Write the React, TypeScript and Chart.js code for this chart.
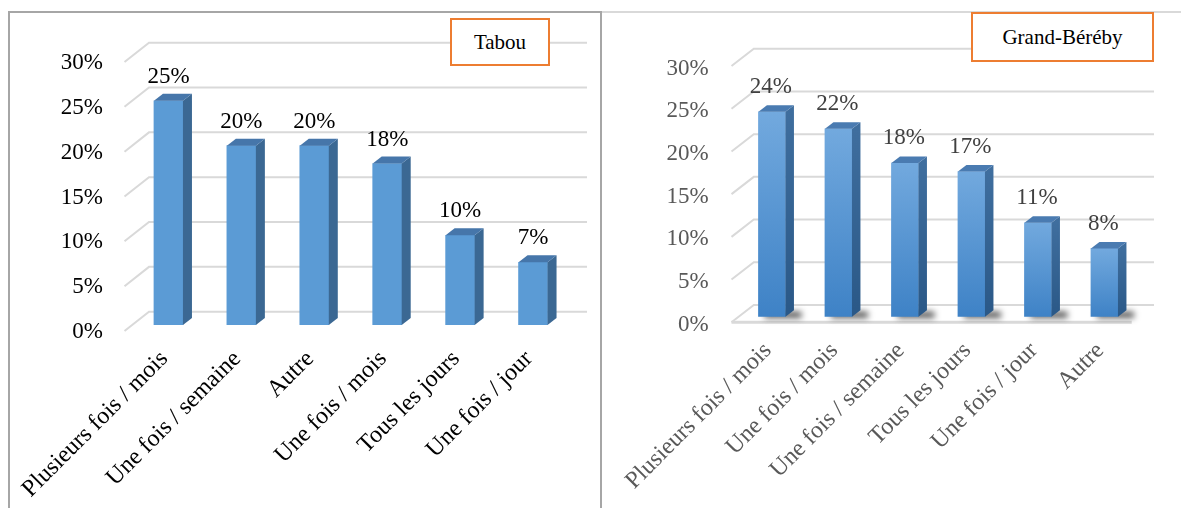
import React, { useEffect, useRef } from 'react';
import { Chart, registerables } from 'chart.js';

Chart.register(...registerables);

// ---------- data ----------
const tabouCategories = [
  'Plusieurs fois / mois',
  'Une fois / semaine',
  'Autre',
  'Une fois / mois',
  'Tous les jours',
  'Une fois / jour',
];
const tabouValues = [25, 20, 20, 18, 10, 7];

const berebyCategories = [
  'Plusieurs fois / mois',
  'Une fois / mois',
  'Une fois / semaine',
  'Tous les jours',
  'Une fois / jour',
  'Autre',
];
const berebyValues = [24, 22, 18, 17, 11, 8];

const yTickValues = [0, 5, 10, 15, 20, 25, 30];

const tabouTitle = 'Tabou';
const berebyTitle = 'Grand-Béréby';

const SERIF = '"Liberation Serif", "Times New Roman", serif';

// ---------- 3D bar plugin ----------
const bar3dPlugin = {
  id: 'bar3d',
  beforeDatasetsDraw(chart: any, _args: any, opts: any) {
    const ctx = chart.ctx;
    const y = chart.scales.y;
    ctx.save();
    ctx.strokeStyle = opts.gridColor;
    ctx.lineWidth = opts.gridWidth;
    for (const t of y.ticks) {
      const py = y.getPixelForValue(t.value);
      ctx.beginPath();
      ctx.moveTo(opts.frontX, py + opts.frontDy);
      ctx.lineTo(opts.backX0, py + opts.backDy);
      ctx.lineTo(opts.backX1, py + opts.backDy);
      ctx.stroke();
    }
    if (opts.floor) {
      const py = y.getPixelForValue(0);
      ctx.lineWidth = opts.gridWidth + 1;
      ctx.beginPath();
      ctx.moveTo(opts.frontX, py + opts.frontDy);
      ctx.lineTo(opts.floorFrontX1, py + opts.frontDy);
      ctx.stroke();
    }
    if (opts.shadow) {
      const meta = chart.getDatasetMeta(0);
      ctx.filter = 'blur(3px)';
      ctx.fillStyle = 'rgba(0,0,0,0.7)';
      meta.data.forEach((el: any) => {
        const p = el.getProps(['x', 'base', 'width'], true);
        ctx.fillRect(p.x - p.width / 2 + 6, p.base - 5, p.width + 10, 6);
      });
      ctx.filter = 'none';
    }
    ctx.restore();
  },
  afterDatasetsDraw(chart: any, _args: any, opts: any) {
    const ctx = chart.ctx;
    const meta = chart.getDatasetMeta(0);
    const values = chart.data.datasets[0].data;
    ctx.save();
    meta.data.forEach((el: any, i: number) => {
      const p = el.getProps(['x', 'y', 'base', 'width'], true);
      const l = p.x - p.width / 2;
      const r = p.x + p.width / 2;
      const dx = opts.depthDx;
      const dy = opts.depthDy;
      // side face
      let side: any = opts.sideColor;
      if (opts.sideGradient) {
        const g = ctx.createLinearGradient(0, p.y, 0, p.base);
        g.addColorStop(0, opts.sideGradient[0]);
        g.addColorStop(1, opts.sideGradient[1]);
        side = g;
      }
      ctx.fillStyle = side;
      ctx.beginPath();
      ctx.moveTo(r, p.y);
      ctx.lineTo(r + dx, p.y - dy);
      ctx.lineTo(r + dx, p.base - dy);
      ctx.lineTo(r, p.base);
      ctx.closePath();
      ctx.fill();
      // top face
      ctx.fillStyle = opts.topColor;
      ctx.beginPath();
      ctx.moveTo(l, p.y);
      ctx.lineTo(l + dx, p.y - dy);
      ctx.lineTo(r + dx, p.y - dy);
      ctx.lineTo(r, p.y);
      ctx.closePath();
      ctx.fill();
      // value label
      ctx.fillStyle = opts.labelColor;
      ctx.font = `23px ${SERIF}`;
      ctx.textAlign = 'center';
      ctx.textBaseline = 'middle';
      ctx.fillText(`${values[i]}%`, p.x + opts.labelDx, p.y - opts.labelDy);
    });
    ctx.restore();
  },
};

type Geo = {
  width: number;
  yAxisWidth: number;
  yPad: number;
  top: number;
  bottom: number;
  rightPad: number;
  barThickness: number;
  tickColor: string;
  xPad: number;
  xLabelOffset: number;
  yLabelOffset: number;
  plugin: any;
  gradient?: [string, string];
  frontColor: string;
};

function makeChart(canvas: HTMLCanvasElement, categories: string[], values: number[], g: Geo) {
  return new Chart(canvas, {
    type: 'bar',
    data: {
      labels: categories,
      datasets: [
        {
          data: values,
          barThickness: g.barThickness,
          borderWidth: 0,
          backgroundColor: (c: any) => {
            if (!g.gradient) return g.frontColor;
            const chart = c.chart;
            const ys = chart.scales && chart.scales.y;
            if (!ys || c.raw === undefined) return g.frontColor;
            const top = ys.getPixelForValue(c.raw);
            const base = ys.getPixelForValue(0);
            if (!isFinite(top) || !isFinite(base) || top === base) return g.frontColor;
            const gr = chart.ctx.createLinearGradient(0, top, 0, base);
            gr.addColorStop(0, g.gradient[0]);
            gr.addColorStop(1, g.gradient[1]);
            return gr;
          },
        },
      ],
    },
    options: {
      responsive: false,
      animation: false,
      devicePixelRatio: 1,
      layout: { padding: { left: 0, top: g.top, right: g.rightPad, bottom: 0 } },
      plugins: {
        legend: { display: false },
        tooltip: { enabled: false },
        title: { display: false },
        bar3d: g.plugin,
      } as any,
      scales: {
        x: {
          grid: { display: false, drawTicks: false },
          border: { display: false },
          ticks: {
            color: g.tickColor,
            font: { family: SERIF, size: 24 },
            minRotation: 45,
            maxRotation: 45,
            autoSkip: false,
            padding: g.xPad,
            labelOffset: g.xLabelOffset,
          },
          afterFit: (s: any) => {
            s.height = 508 - g.bottom;
            s.paddingLeft = 0;
            s.paddingRight = 0;
          },
        },
        y: {
          min: 0,
          max: 30,
          grid: { display: false, drawTicks: false },
          border: { display: false },
          afterBuildTicks: (s: any) => {
            s.ticks = yTickValues.map((v) => ({ value: v }));
          },
          ticks: {
            color: g.tickColor,
            font: { family: SERIF, size: 23 },
            padding: g.yPad,
            labelOffset: g.yLabelOffset,
            callback: (v: any) => `${v}%`,
          },
          afterFit: (s: any) => {
            s.width = g.yAxisWidth;
            s.paddingTop = 0;
            s.paddingBottom = 0;
          },
        },
      },
    } as any,
    plugins: [bar3dPlugin as any],
  });
}

const leftGeo: Geo = {
  width: 601,
  yAxisWidth: 132,
  yPad: 29,
  top: 56,
  bottom: 325,
  rightPad: 31.5,
  barThickness: 29,
  tickColor: '#000000',
  xPad: 20,
  xLabelOffset: -4,
  yLabelOffset: 7,
  frontColor: '#5B9BD5',
  plugin: {
    gridColor: '#D9D9D9',
    gridWidth: 2,
    frontX: 124.5,
    frontDy: 6,
    backX0: 149,
    backDy: -13.3,
    backX1: 587,
    floor: false,
    shadow: false,
    depthDx: 9,
    depthDy: 7,
    sideColor: '#3B6893',
    topColor: '#4676AA',
    labelColor: '#000000',
    labelDx: 0,
    labelDy: 24,
  },
};

const rightGeo: Geo = {
  width: 580,
  yAxisWidth: 137.7,
  yPad: 30,
  top: 60.5,
  bottom: 316.8,
  rightPad: 43.3,
  barThickness: 27,
  tickColor: '#595959',
  xPad: 20,
  xLabelOffset: -4,
  yLabelOffset: 8,
  frontColor: '#5B9BD5',
  gradient: ['#72A9DE', '#3E82C6'],
  plugin: {
    gridColor: '#D9D9D9',
    gridWidth: 2,
    frontX: 130.5,
    frontDy: 5.5,
    backX0: 152.8,
    backDy: -11.8,
    backX1: 553,
    floor: true,
    floorFrontX1: 530.7,
    shadow: true,
    depthDx: 8.5,
    depthDy: 6.5,
    sideColor: '#34628F',
    sideGradient: ['#3F6E9E', '#2A5887'],
    topColor: '#4A7BB1',
    labelColor: '#404040',
    labelDx: -1,
    labelDy: 25,
  },
};

function ChartCanvas({ categories, values, geo, left }: { categories: string[]; values: number[]; geo: Geo; left: number }) {
  const ref = useRef<HTMLCanvasElement | null>(null);
  useEffect(() => {
    if (!ref.current) return;
    const chart = makeChart(ref.current, categories, values, geo);
    return () => chart.destroy();
  }, []);
  return (
    <canvas
      ref={ref}
      width={geo.width}
      height={508}
      style={{ position: 'absolute', left, top: 0, width: geo.width, height: 508 }}
    />
  );
}

const boxStyle = (left: number, top: number, width: number, height: number): React.CSSProperties => ({
  position: 'absolute',
  left,
  top,
  width,
  height,
  boxSizing: 'border-box',
  border: '2px solid #ED7D31',
  background: '#FFFFFF',
  display: 'flex',
  alignItems: 'center',
  justifyContent: 'center',
  fontFamily: SERIF,
  fontSize: 21,
  color: '#000000',
});

export default function App() {
  return (
    <div
      style={{
        position: 'absolute',
        left: 0,
        top: 0,
        width: 1181,
        height: 508,
        overflow: 'hidden',
        background: '#FFFFFF',
      }}
    >
      <ChartCanvas categories={tabouCategories} values={tabouValues} geo={leftGeo} left={0} />
      <ChartCanvas categories={berebyCategories} values={berebyValues} geo={rightGeo} left={601} />
      {/* panel borders */}
      <div
        style={{
          position: 'absolute',
          left: 8,
          top: 11,
          width: 594,
          height: 540,
          boxSizing: 'border-box',
          border: '2px solid #A6A6A6',
        }}
      />
      <div style={{ position: 'absolute', left: 602, top: 11, width: 579, height: 2, background: '#D9D9D9' }} />
      {/* title boxes */}
      <div style={boxStyle(450, 18, 100, 48)}>{tabouTitle}</div>
      <div style={boxStyle(971, 12, 183, 50)}>{berebyTitle}</div>
    </div>
  );
}
